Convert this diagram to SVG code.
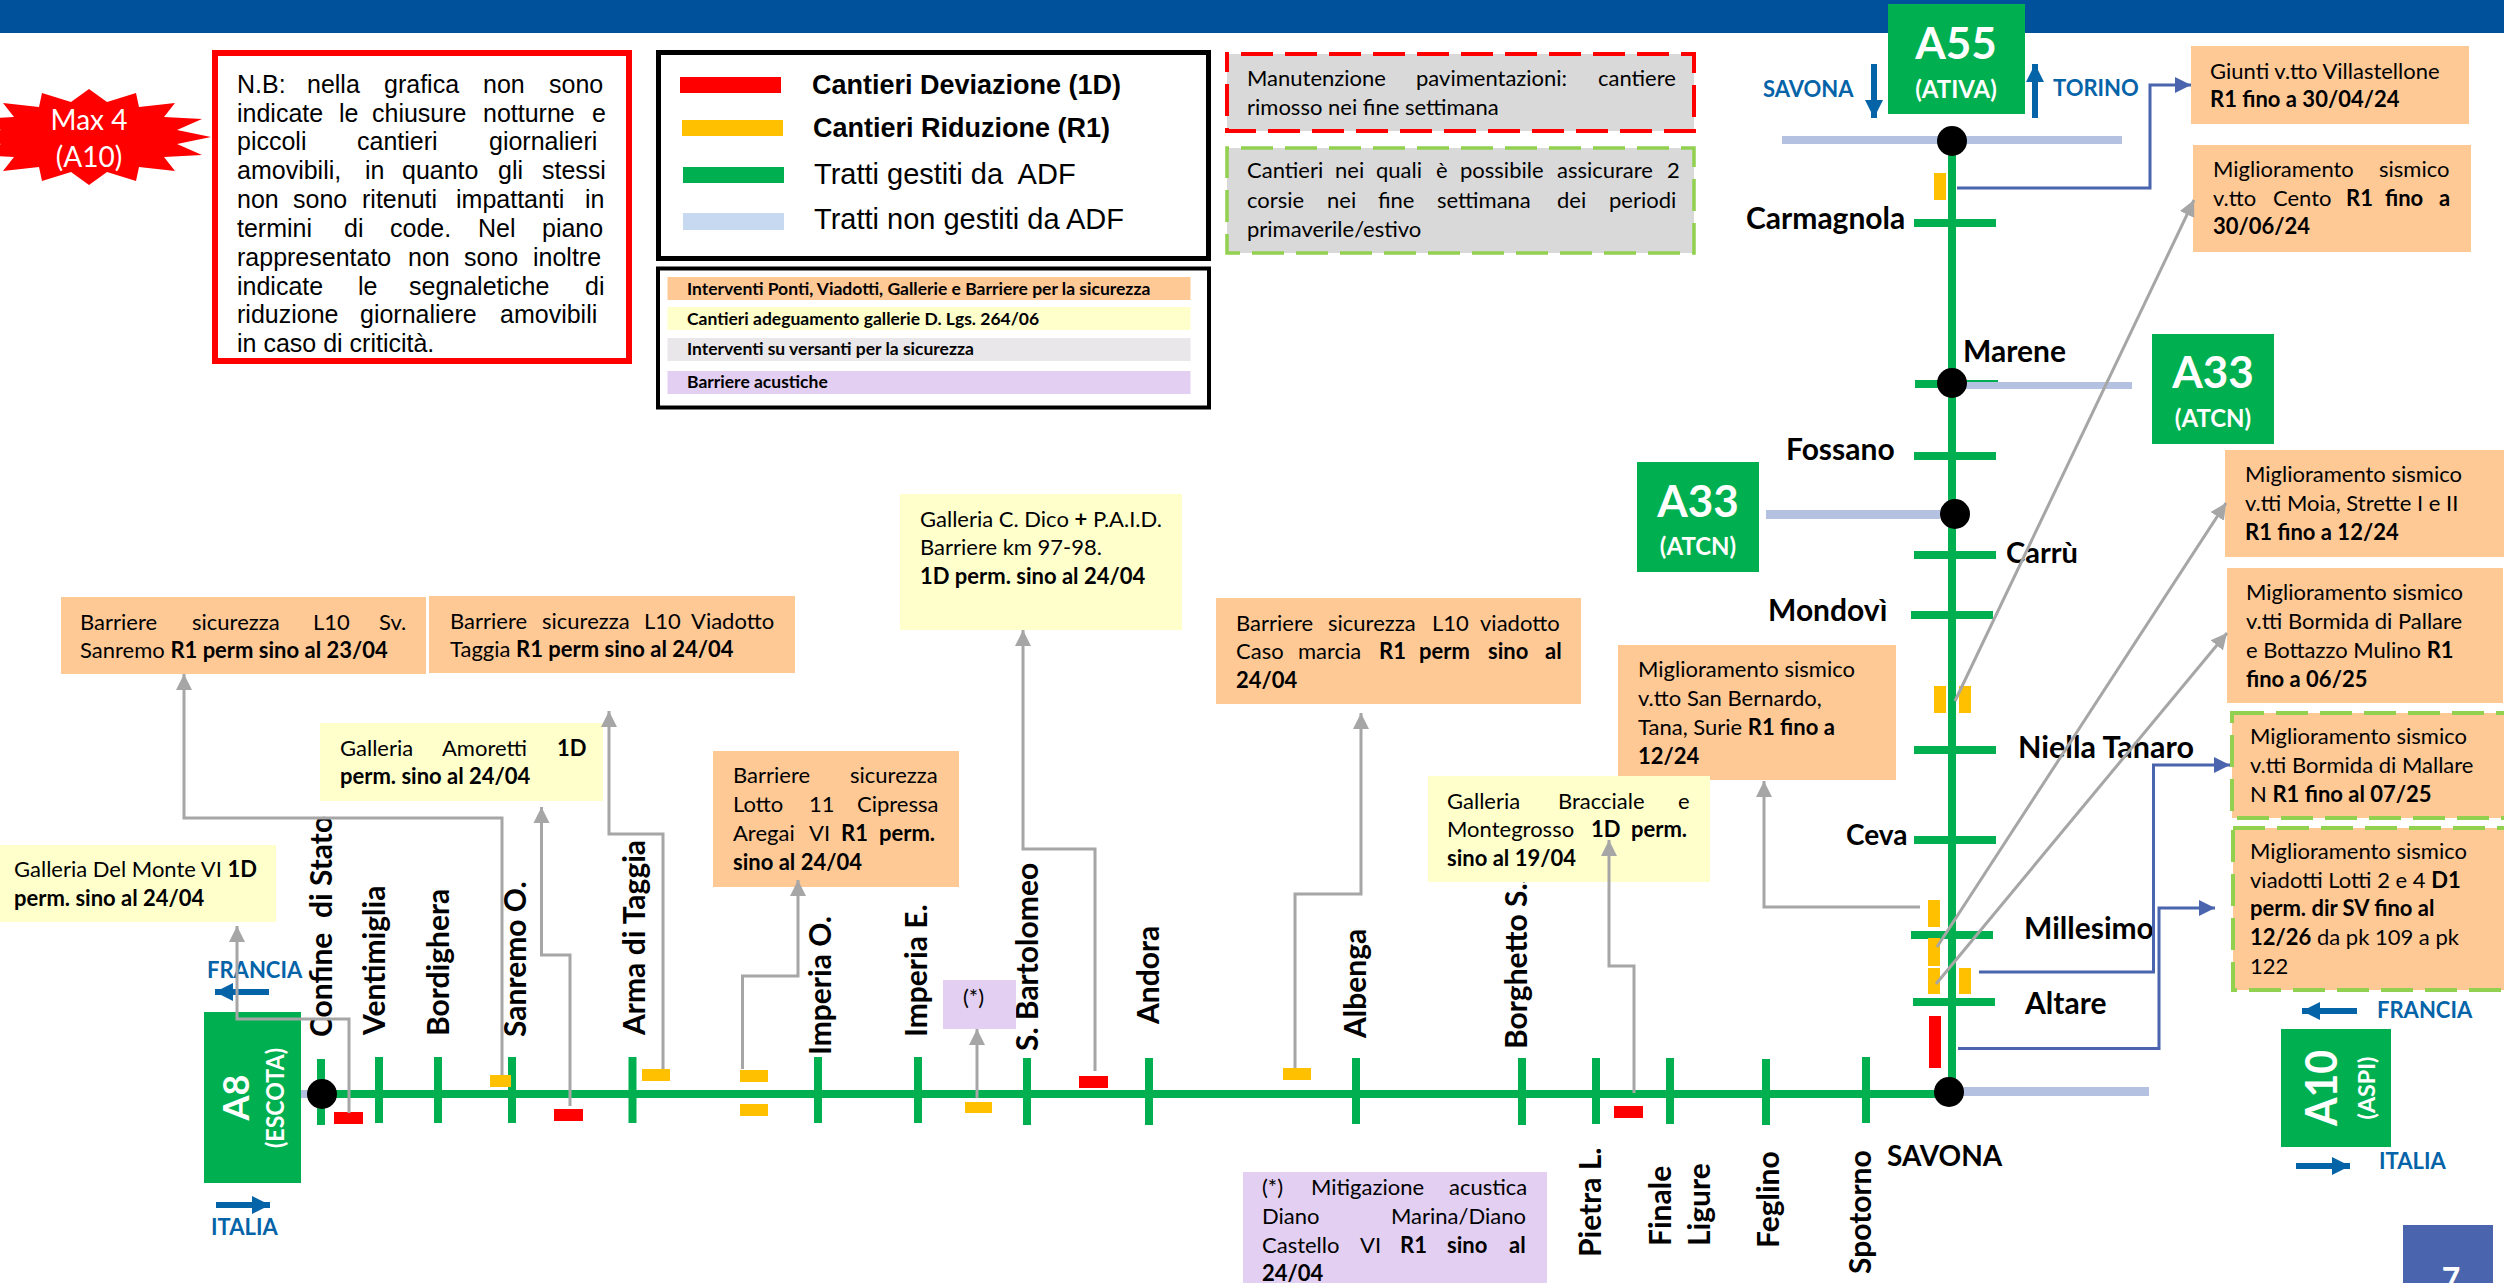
<svg xmlns="http://www.w3.org/2000/svg" width="2504" height="1283" viewBox="0 0 2504 1283">
<defs>
<style>
text{font-family:"Lato","Noto Sans",sans-serif;fill:#000}
.n{font-size:22px}
.b,.n .b{font-weight:700}
.a{font-family:"Liberation Sans",Arial,sans-serif;font-size:25px}
.l{font-family:"Liberation Sans",Arial,sans-serif;font-size:29px}
.lb{font-family:"Liberation Sans",Arial,sans-serif;font-size:27px;font-weight:700}
.s{font-size:17.500px;font-weight:700}
.st{font-size:30px;font-weight:700}
.dir{font-size:22px;font-weight:700;fill:#0563A8}
.w{fill:#fff;font-weight:700;text-anchor:middle}
.or{fill:#FFC996}.ye{fill:#FFFFCC}.pu{fill:#E2CFF1}
.g{fill:#00B050}.go{fill:#FFC000}.re{fill:#FF0000}.bd{fill:#B4C1E0}
.rd{fill:none;stroke:#00B050;stroke-width:8}
.cg{fill:none;stroke:#A6A6A6;stroke-width:3;marker-end:url(#ag)}
.cb{fill:none;stroke:#4A65AE;stroke-width:3;marker-end:url(#ab)}
.da{fill:none;stroke:#0563A8;stroke-width:6;marker-end:url(#ad)}
.dr{stroke:#FF0000;stroke-width:4;stroke-dasharray:32 12;stroke-dashoffset:30;fill:#D9D9D9}
.dg{stroke:#92D050;stroke-width:3.500;stroke-dasharray:32 12;stroke-dashoffset:30;fill:#D9D9D9}
.dgo{stroke:#92D050;stroke-width:4;stroke-dasharray:32 12}
</style>
<marker id="ag" markerUnits="userSpaceOnUse" markerWidth="18" markerHeight="18" refX="16" refY="9" orient="auto"><path d="M0 1L16 9L0 17z" fill="#A6A6A6"/></marker>
<marker id="ab" markerUnits="userSpaceOnUse" markerWidth="18" markerHeight="18" refX="16" refY="9" orient="auto"><path d="M0 1L16 9L0 17z" fill="#4A65AE"/></marker>
<marker id="ad" markerUnits="userSpaceOnUse" markerWidth="20" markerHeight="20" refX="18" refY="10" orient="auto"><path d="M0 1L18 10L0 19z" fill="#0563A8"/></marker>
</defs>
<rect width="2504" height="1283" fill="#fff"/>
<rect id="header" width="2504" height="33" fill="#00519C"/>

<g id="road">
<path class="rd" d="M1952 141V1094M322 1094H1949"/>
<path class="rd" d="M321 1059V1125M379 1057V1123M438 1057V1123M512 1057V1123M632.500 1057V1123M818 1057V1123M918 1057V1123M1027 1058V1125M1149 1058V1125M1356 1058V1124M1522 1058V1125M1596 1058V1124M1670 1058V1124M1766 1059V1125M1866 1057V1123"/>
<path class="rd" d="M1914 223H1996M1915 384H1998M1914 456H1996M1914 555H1996M1911 615H1993M1914 750H1996M1914 840H1996M1911 935H1993M1913 1002H1995"/>
<path fill="#B4C1E0" d="M1782 136H2122V144H1782zM1952 382H2132V389H1952zM1766 510H1940V519H1766zM1963 1087H2149V1096H1963zM301 1090H322V1098H301z"/>
<rect class="go" x="1934" y="173" width="12" height="27"/>
<rect class="go" x="1934" y="686" width="12" height="27"/>
<rect class="go" x="1959" y="686" width="12" height="27"/>
<rect class="go" x="1928" y="900" width="12" height="27"/>
<rect class="go" x="1928" y="938" width="12" height="28"/>
<rect class="go" x="1928" y="968" width="12" height="26"/>
<rect class="go" x="1959" y="968" width="12" height="26"/>
<rect class="re" x="1929" y="1016" width="12" height="52"/>
<rect class="re" x="334" y="1112" width="29" height="12"/>
<rect class="go" x="490" y="1075" width="21" height="12"/>
<rect class="re" x="554" y="1109" width="29" height="12"/>
<rect class="go" x="642" y="1069" width="28" height="12"/>
<rect class="go" x="740" y="1070" width="28" height="12"/>
<rect class="go" x="740" y="1104" width="28" height="12"/>
<rect class="go" x="965" y="1102" width="27" height="11"/>
<rect class="re" x="1079" y="1076" width="29" height="12"/>
<rect class="go" x="1283" y="1068" width="28" height="12"/>
<rect class="re" x="1614" y="1106" width="29" height="12"/>
<circle cx="1952" cy="141" r="15"/><circle cx="1952" cy="383" r="15"/><circle cx="1955" cy="514" r="15"/><circle cx="1949" cy="1092" r="15"/><circle cx="322" cy="1094" r="15"/>
</g>

<g id="stations">
<text class="st" x="1746" y="229">Carmagnola</text>
<text class="st" x="1963" y="362">Marene</text>
<text class="st" x="1786" y="460">Fossano</text>
<text class="st" x="2006" y="563" style="font-size:29px">Carrù</text>
<text class="st" x="1768" y="621">Mondovì</text>
<text class="st" x="2018" y="758" style="font-size:30.500px">Niella Tanaro</text>
<text class="st" x="1846" y="845" style="font-size:28px">Ceva</text>
<text class="st" x="2024" y="939">Millesimo</text>
<text class="st" x="2025" y="1014">Altare</text>
<text class="st" x="1887" y="1166" style="font-size:28px">SAVONA</text>
<text class="st" xml:space="preserve" transform="translate(332 1037) rotate(-90)">Confine  di Stato</text>
<text class="st" transform="translate(385 1035) rotate(-90)">Ventimiglia</text>
<text class="st" transform="translate(449 1036) rotate(-90)">Bordighera</text>
<text class="st" transform="translate(526 1037) rotate(-90)">Sanremo O.</text>
<text class="st" transform="translate(645 1035) rotate(-90)">Arma di Taggia</text>
<text class="st" transform="translate(831 1055) rotate(-90)">Imperia O.</text>
<text class="st" transform="translate(927 1037) rotate(-90)">Imperia E.</text>
<text class="st" transform="translate(1038 1051) rotate(-90)">S. Bartolomeo</text>
<text class="st" transform="translate(1159 1024) rotate(-90)">Andora</text>
<text class="st" transform="translate(1366 1038) rotate(-90)">Albenga</text>
<text class="st" transform="translate(1527 1049) rotate(-90)">Borghetto S.S.</text>
<text class="st" transform="translate(1601 1257) rotate(-90)">Pietra L.</text>
<text class="st" transform="translate(1671 1246) rotate(-90)">Finale</text>
<text class="st" transform="translate(1710 1246) rotate(-90)">Ligure</text>
<text class="st" transform="translate(1779 1248) rotate(-90)">Feglino</text>
<text class="st" transform="translate(1871 1274) rotate(-90)">Spotorno</text>
</g>

<g id="max4">
<polygon class="re" points="89,89 107,102 136,93 139,107 175,103 164,117 202,119 177,130 211,137 177,144 202,155 164,157 175,171 139,167 136,181 107,172 89,185 71,172 42,181 39,167 3,171 14,157 -24,155 1,144 -33,137 1,130 -24,119 14,117 3,103 39,107 42,93 71,102"/>
<text x="89" y="130" style="font-size:28px;fill:#fff;text-anchor:middle">Max 4</text>
<text x="89" y="167" style="font-size:28px;fill:#fff;text-anchor:middle">(A10)</text>
</g>

<g id="nb">
<rect x="215" y="53" width="414" height="308" fill="#fff" stroke="#FF0000" stroke-width="6"/>
<text class="a" y="93"><tspan x="237">N.B:</tspan><tspan x="307">nella</tspan><tspan x="384">grafica</tspan><tspan x="483">non</tspan><tspan x="549">sono</tspan></text>
<text class="a" y="122"><tspan x="237">indicate</tspan><tspan x="339">le</tspan><tspan x="372">chiusure</tspan><tspan x="483">notturne</tspan><tspan x="592">e</tspan></text>
<text class="a" y="150"><tspan x="237">piccoli</tspan><tspan x="357">cantieri</tspan><tspan x="489">giornalieri</tspan></text>
<text class="a" y="179"><tspan x="237">amovibili,</tspan><tspan x="365">in</tspan><tspan x="402">quanto</tspan><tspan x="498">gli</tspan><tspan x="542">stessi</tspan></text>
<text class="a" y="208"><tspan x="237">non</tspan><tspan x="293">sono</tspan><tspan x="362">ritenuti</tspan><tspan x="456">impattanti</tspan><tspan x="585">in</tspan></text>
<text class="a" y="237"><tspan x="237">termini</tspan><tspan x="344">di</tspan><tspan x="390">code.</tspan><tspan x="478">Nel</tspan><tspan x="542">piano</tspan></text>
<text class="a" y="266"><tspan x="237">rappresentato</tspan><tspan x="408">non</tspan><tspan x="464">sono</tspan><tspan x="533">inoltre</tspan></text>
<text class="a" y="295"><tspan x="237">indicate</tspan><tspan x="358">le</tspan><tspan x="409">segnaletiche</tspan><tspan x="585">di</tspan></text>
<text class="a" y="323"><tspan x="237">riduzione</tspan><tspan x="360">giornaliere</tspan><tspan x="500">amovibili</tspan></text>
<text class="a" y="352" x="237">in caso di criticità.</text>
</g>

<g id="legend1">
<rect x="658.500" y="52.500" width="550" height="206" fill="#fff" stroke="#000" stroke-width="5"/>
<rect class="re" x="680" y="77" width="101" height="16"/>
<rect class="go" x="682" y="120" width="101" height="16"/>
<rect x="683" y="167" width="101" height="16" class="g"/>
<rect x="683" y="213" width="101" height="17" fill="#C6D9F1"/>
<text class="lb" x="812" y="94">Cantieri Deviazione (1D)</text>
<text class="lb" x="813" y="137">Cantieri Riduzione (R1)</text>
<text class="l" xml:space="preserve" x="814" y="184">Tratti gestiti da  ADF</text>
<text class="l" x="814" y="229">Tratti non gestiti da ADF</text>
</g>

<g id="legend2">
<rect x="658" y="268.500" width="551" height="139" fill="#fff" stroke="#000" stroke-width="4"/>
<rect class="or" x="667.500" y="277" width="523" height="23"/>
<rect class="ye" x="667.500" y="307" width="523" height="23"/>
<rect x="667.500" y="338" width="523" height="23" fill="#E9E7EA"/>
<rect class="pu" x="667.500" y="371" width="523" height="23"/>
<text class="s" x="687" y="295">Interventi Ponti, Viadotti, Gallerie e Barriere per la sicurezza</text>
<text class="s" x="687" y="325">Cantieri adeguamento gallerie D. Lgs. 264/06</text>
<text class="s" x="687" y="355">Interventi su versanti per la sicurezza</text>
<text class="s" x="687" y="388">Barriere acustiche</text>
</g>

<g id="note-manutenzione">
<rect class="dr" x="1227" y="54" width="467" height="77"/>
<text class="n" y="86"><tspan x="1247">Manutenzione</tspan><tspan x="1416">pavimentazioni:</tspan><tspan x="1598">cantiere</tspan></text>
<text class="n" x="1247" y="115">rimosso nei fine settimana</text>
</g>
<g id="note-2corsie">
<rect class="dg" x="1227" y="148" width="467" height="105"/>
<text class="n" y="178"><tspan x="1247">Cantieri</tspan><tspan x="1335">nei</tspan><tspan x="1376">quali</tspan><tspan x="1436">è</tspan><tspan x="1460">possibile</tspan><tspan x="1557">assicurare</tspan><tspan x="1667">2</tspan></text>
<text class="n" y="208"><tspan x="1247">corsie</tspan><tspan x="1327">nei</tspan><tspan x="1378">fine</tspan><tspan x="1437">settimana</tspan><tspan x="1557">dei</tspan><tspan x="1609">periodi</tspan></text>
<text class="n" x="1247" y="237">primaverile/estivo</text>
</g>

<g id="a55">
<rect class="g" x="1888" y="4" width="137" height="110"/>
<text class="w" x="1956" y="59" style="font-size:44px">A55</text>
<text class="w" x="1956" y="98" style="font-size:24px">(ATIVA)</text>
</g>
<g id="a33-1">
<rect class="g" x="2152" y="334" width="122" height="110"/>
<text class="w" x="2213" y="388" style="font-size:44px">A33</text>
<text class="w" x="2213" y="427" style="font-size:24px">(ATCN)</text>
</g>
<g id="a33-2">
<rect class="g" x="1637" y="462" width="122" height="110"/>
<text class="w" x="1698" y="517" style="font-size:44px">A33</text>
<text class="w" x="1698" y="555" style="font-size:24px">(ATCN)</text>
</g>
<g id="a10">
<rect class="g" x="2281" y="1029" width="110" height="118"/>
<text class="w" transform="translate(2337 1088) rotate(-90)" textLength="76" lengthAdjust="spacingAndGlyphs" style="font-size:44px">A10</text>
<text class="w" transform="translate(2375 1088) rotate(-90)" textLength="63" lengthAdjust="spacingAndGlyphs" style="font-size:22px">(ASPI)</text>
</g>
<g id="a8">
<rect class="g" x="204" y="1012" width="97" height="171"/>
<text class="w" transform="translate(249 1097.500) rotate(-90)" style="font-size:36px">A8</text>
<text class="w" transform="translate(284 1098) rotate(-90)" textLength="100" lengthAdjust="spacingAndGlyphs" style="font-size:24px">(ESCOTA)</text>
</g>

<g id="directions">
<text class="dir" x="1763" y="97">SAVONA</text>
<text class="dir" x="2053" y="96">TORINO</text>
<text class="dir" x="2377" y="1018">FRANCIA</text>
<text class="dir" x="2379" y="1169">ITALIA</text>
<text class="dir" x="207" y="978">FRANCIA</text>
<text class="dir" x="211" y="1235">ITALIA</text>
</g>

<g id="giunti">
<rect class="or" x="2191" y="46" width="278" height="78"/>
<text class="n" x="2210" y="79">Giunti v.tto Villastellone</text>
<text class="n b" x="2210" y="107">R1 fino a 30/04/24</text>
</g>
<g id="cento">
<rect class="or" x="2193" y="145" width="278" height="107"/>
<text class="n" y="177"><tspan x="2213">Miglioramento</tspan><tspan x="2379">sismico</tspan></text>
<text class="n" y="206"><tspan x="2213">v.tto</tspan><tspan x="2273">Cento</tspan><tspan class="b" x="2346">R1</tspan><tspan class="b" x="2385">fino</tspan><tspan class="b" x="2439">a</tspan></text>
<text class="n b" x="2213" y="234">30/06/24</text>
</g>
<g id="moia">
<rect class="or" x="2225" y="450" width="279" height="107"/>
<text class="n" x="2245" y="482">Miglioramento sismico</text>
<text class="n" x="2245" y="511">v.tti Moia, Strette I e II</text>
<text class="n b" x="2245" y="540">R1 fino a 12/24</text>
</g>
<g id="pallare">
<rect class="or" x="2227" y="568" width="276" height="135"/>
<text class="n" x="2246" y="600">Miglioramento sismico</text>
<text class="n" x="2246" y="629">v.tti Bormida di Pallare</text>
<text class="n" x="2246" y="658">e Bottazzo Mulino <tspan class="b">R1</tspan></text>
<text class="n b" x="2246" y="687">fino a 06/25</text>
</g>
<g id="mallare">
<rect class="or dgo" x="2232" y="713" width="274" height="105"/>
<text class="n" x="2250" y="744">Miglioramento sismico</text>
<text class="n" x="2250" y="773">v.tti Bormida di Mallare</text>
<text class="n" x="2250" y="802">N <tspan class="b">R1 fino al 07/25</tspan></text>
</g>
<g id="lotti">
<rect class="or dgo" x="2233" y="828" width="273" height="162"/>
<text class="n" x="2250" y="859">Miglioramento sismico</text>
<text class="n" x="2250" y="888">viadotti Lotti 2 e 4 <tspan class="b">D1</tspan></text>
<text class="n b" x="2250" y="916">perm. dir SV fino al</text>
<text class="n" x="2250" y="945"><tspan class="b">12/26</tspan> da pk 109 a pk</text>
<text class="n" x="2250" y="974">122</text>
</g>
<g id="bernardo">
<rect class="or" x="1618" y="645" width="278" height="135"/>
<text class="n" x="1638" y="677">Miglioramento sismico</text>
<text class="n" x="1638" y="706">v.tto San Bernardo,</text>
<text class="n" x="1638" y="735">Tana, Surie <tspan class="b">R1 fino a</tspan></text>
<text class="n b" x="1638" y="764">12/24</text>
</g>
<g id="bracciale">
<rect class="ye" x="1428" y="776" width="282" height="106"/>
<text class="n" y="809"><tspan x="1447">Galleria</tspan><tspan x="1558">Bracciale</tspan><tspan x="1678">e</tspan></text>
<text class="n" y="837"><tspan x="1447">Montegrosso</tspan><tspan class="b" x="1591">1D</tspan><tspan class="b" x="1631">perm.</tspan></text>
<text class="n b" x="1447" y="866">sino al 19/04</text>
</g>
<g id="caso">
<rect class="or" x="1216" y="598" width="365" height="106"/>
<text class="n" y="631"><tspan x="1236">Barriere</tspan><tspan x="1328">sicurezza</tspan><tspan x="1432">L10</tspan><tspan x="1480">viadotto</tspan></text>
<text class="n" y="659"><tspan x="1236">Caso</tspan><tspan x="1298">marcia</tspan><tspan class="b" x="1379">R1</tspan><tspan class="b" x="1419">perm</tspan><tspan class="b" x="1488">sino</tspan><tspan class="b" x="1545">al</tspan></text>
<text class="n b" x="1236" y="688">24/04</text>
</g>
<g id="dico">
<rect class="ye" x="900" y="494" width="282" height="136"/>
<text class="n" x="920" y="527">Galleria C. Dico <tspan class="b">+</tspan> P.A.I.D.</text>
<text class="n" x="920" y="555">Barriere km 97-98.</text>
<text class="n b" x="920" y="584">1D perm. sino al 24/04</text>
</g>
<g id="cipressa">
<rect class="or" x="713" y="751" width="246" height="136"/>
<text class="n" y="783"><tspan x="733">Barriere</tspan><tspan x="850">sicurezza</tspan></text>
<text class="n" y="812"><tspan x="733">Lotto</tspan><tspan x="809">11</tspan><tspan x="857">Cipressa</tspan></text>
<text class="n" y="841"><tspan x="733">Aregai</tspan><tspan x="809">VI</tspan><tspan class="b" x="841">R1</tspan><tspan class="b" x="879">perm.</tspan></text>
<text class="n b" x="733" y="870">sino al 24/04</text>
</g>
<g id="sanremo">
<rect class="or" x="61" y="597" width="365" height="77"/>
<text class="n" y="630"><tspan x="80">Barriere</tspan><tspan x="192">sicurezza</tspan><tspan x="313">L10</tspan><tspan x="379">Sv.</tspan></text>
<text class="n" x="80" y="658">Sanremo <tspan class="b">R1 perm sino al 23/04</tspan></text>
</g>
<g id="taggia">
<rect class="or" x="429" y="596" width="366" height="77"/>
<text class="n" y="629"><tspan x="450">Barriere</tspan><tspan x="542">sicurezza</tspan><tspan x="644">L10</tspan><tspan x="691">Viadotto</tspan></text>
<text class="n" x="450" y="657">Taggia <tspan class="b">R1 perm sino al 24/04</tspan></text>
</g>
<g id="amoretti">
<rect class="ye" x="320" y="723" width="283" height="78"/>
<text class="n" y="756"><tspan x="340">Galleria</tspan><tspan x="442">Amoretti</tspan><tspan class="b" x="557">1D</tspan></text>
<text class="n b" x="340" y="784">perm. sino al 24/04</text>
</g>
<g id="monte">
<rect class="ye" x="0" y="845" width="276" height="77"/>
<text class="n" x="14" y="877">Galleria Del Monte VI <tspan class="b">1D</tspan></text>
<text class="n b" x="14" y="906">perm. sino al 24/04</text>
</g>
<g id="asterisco">
<rect class="pu" x="943" y="980" width="73" height="49"/>
<text class="n" x="963" y="1005">(*)</text>
</g>
<g id="mitigazione">
<rect class="pu" x="1243" y="1172" width="304" height="111"/>
<text class="n" y="1195"><tspan x="1262">(*)</tspan><tspan x="1311">Mitigazione</tspan><tspan x="1449">acustica</tspan></text>
<text class="n" y="1224"><tspan x="1262">Diano</tspan><tspan x="1391">Marina/Diano</tspan></text>
<text class="n" y="1253"><tspan x="1262">Castello</tspan><tspan x="1360">VI</tspan><tspan class="b" x="1400">R1</tspan><tspan class="b" x="1447">sino</tspan><tspan class="b" x="1509">al</tspan></text>
<text class="n b" x="1262" y="1281">24/04</text>
</g>
<g id="page">
<rect x="2403" y="1225" width="90" height="58" fill="#4A65AE"/>
<text class="w" x="2451" y="1291" style="font-size:32px">7</text>
</g>

<g id="connectors">
<path class="da" d="M1874 64V118"/>
<path class="da" d="M2035 118V64"/>
<path class="da" d="M2357 1011H2302"/>
<path class="da" d="M2296 1166H2350"/>
<path class="da" d="M269 992H215"/>
<path class="da" d="M216 1205H270"/>
<path class="cb" d="M1957 188H2150V85H2191"/>
<path class="cb" d="M1979 972H2153.500V765H2230"/>
<path class="cb" d="M1958 1048.500H2159V908H2215"/>
<path class="cg" d="M1955 701L2194 200"/>
<path class="cg" d="M1937 947L2226 503"/>
<path class="cg" d="M1936 984L2227 633"/>
<path class="cg" d="M1920 907H1764V781"/>
<path class="cg" d="M1634 1093V966H1609V840"/>
<path class="cg" d="M1295 1068V894H1361V713"/>
<path class="cg" d="M1095 1071V849H1023V630"/>
<path class="cg" d="M977 1098V1029"/>
<path class="cg" d="M742.500 1069V976H798V880"/>
<path class="cg" d="M663 1069V834H609V711"/>
<path class="cg" d="M570 1106V955H541.500V807"/>
<path class="cg" d="M502 1075V818H184V674"/>
<path class="cg" d="M349 1113V1019H237V926"/>
</g>
</svg>
